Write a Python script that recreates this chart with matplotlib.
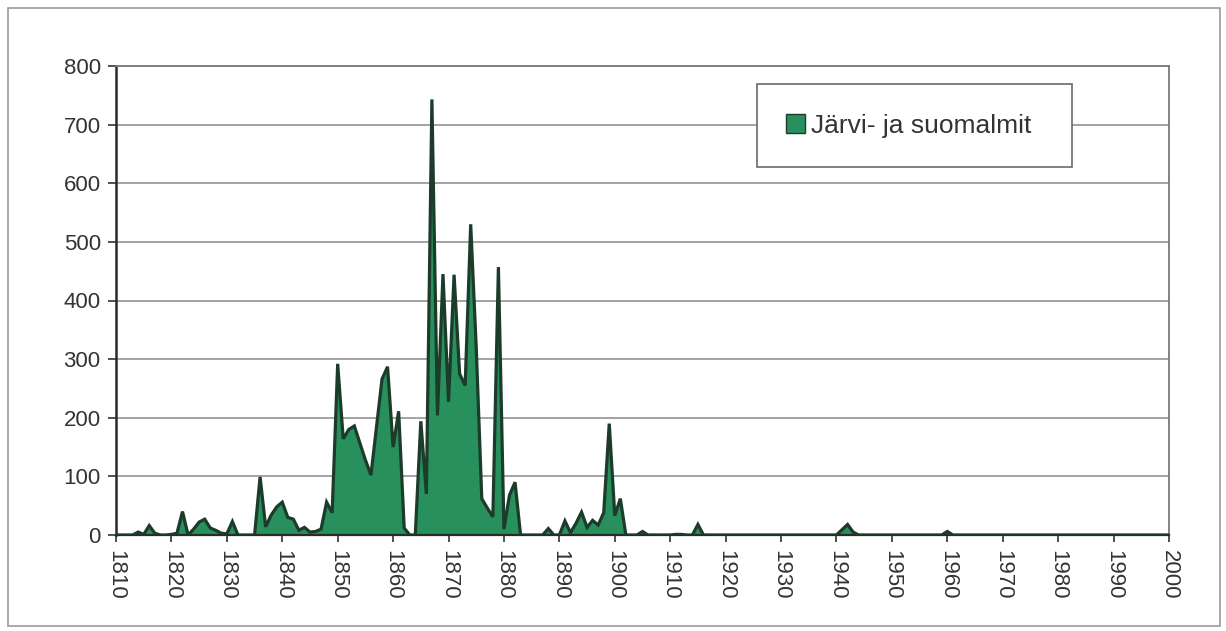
import matplotlib
matplotlib.use("Agg")
import matplotlib.pyplot as plt
from matplotlib.patches import Rectangle, Patch

plt.rcParams['font.family'] = ['Liberation Sans', 'DejaVu Sans']

# ---- data -------------------------------------------------------------
years = list(range(1810, 2001))
nonzero = {
    1814: 5, 1815: 1, 1816: 16, 1817: 3, 1820: 1, 1821: 3, 1822: 40,
    1824: 10, 1825: 22, 1826: 27, 1827: 12, 1828: 8, 1829: 3, 1830: 2, 1831: 23,
    1836: 99, 1837: 14, 1838: 34, 1839: 48, 1840: 56, 1841: 30, 1842: 27,
    1843: 8, 1844: 13, 1845: 5, 1846: 6, 1847: 10, 1848: 56, 1849: 38,
    1850: 292, 1851: 164, 1852: 180, 1853: 186, 1854: 157, 1855: 128,
    1856: 102, 1857: 184, 1858: 266, 1859: 287, 1860: 150, 1861: 211,
    1862: 12, 1865: 194, 1866: 70, 1867: 743, 1868: 204, 1869: 445,
    1870: 227, 1871: 444, 1872: 275, 1873: 255, 1874: 530, 1875: 320,
    1876: 62, 1877: 46, 1878: 31, 1879: 457, 1880: 10, 1881: 68, 1882: 90,
    1888: 11, 1891: 24, 1892: 4, 1893: 20, 1894: 39, 1895: 13, 1896: 25,
    1897: 17, 1898: 38, 1899: 190, 1900: 33, 1901: 62, 1905: 6,
    1911: 1, 1912: 1, 1915: 18, 1941: 9, 1942: 18, 1943: 5, 1960: 6,
}
values = [nonzero.get(y, 0) for y in years]

series_label = "Järvi- ja suomalmit"
x_ticks = list(range(1810, 2001, 10))
y_ticks = list(range(0, 801, 100))

# ---- figure -----------------------------------------------------------
W, H = 1226, 631
fig = plt.figure(figsize=(W / 100, H / 100), dpi=100)
fig.patch.set_facecolor('white')

# outer frame
fig.patches.append(Rectangle((8 / W, 5 / H), (1220 - 8) / W, (623 - 5) / H,
                             transform=fig.transFigure, fill=False,
                             edgecolor='#9a9a9a', linewidth=1.2))

ax = fig.add_axes([116 / W, 1 - 535 / H, (1169 - 116) / W, (535 - 66) / H])

fill_col = '#27905c'
edge_col = '#1c3b2a'
ax.fill_between(years, values, 0, facecolor=fill_col, edgecolor='none', zorder=2)
ax.plot(years, values, color=edge_col, linewidth=2.3, zorder=3,
        solid_joinstyle='miter')

ax.set_xlim(1810, 2000)
ax.set_ylim(0, 800)
ax.set_xticks(x_ticks)
ax.set_xticklabels([str(t) for t in x_ticks], rotation=-90, fontsize=16,
                   color='#333333')
ax.set_yticks(y_ticks)
ax.set_yticklabels([str(t) for t in y_ticks], fontsize=16, color='#333333')
ax.tick_params(axis='x', direction='out', length=5, width=1.2, pad=6,
               color='#333333')
ax.tick_params(axis='y', direction='out', length=6, width=1.2, pad=5,
               color='#333333')

ax.yaxis.grid(True, color='#8a8a8a', linewidth=1.1, zorder=0)
ax.set_axisbelow(True)

for side in ['top', 'right']:
    ax.spines[side].set_color('#7a7a7a')
    ax.spines[side].set_linewidth(1.3)
ax.spines['left'].set_color('#2a2a2a')
ax.spines['left'].set_linewidth(1.8)
ax.spines['bottom'].set_color('#2a2a2a')
ax.spines['bottom'].set_linewidth(1.6)

handle = Patch(facecolor=fill_col, edgecolor=edge_col, linewidth=1.0)
leg = ax.legend([handle], [series_label], loc='center',
                bbox_to_anchor=((757 - 116) / 1053, (535 - 168) / 469,
                                (1072 - 757) / 1053, (168 - 83) / 469),
                mode='expand', fontsize=19, frameon=True, fancybox=False,
                shadow=False, borderpad=1.1, handlelength=0.7,
                handleheight=0.7, handletextpad=0.25, borderaxespad=0)
leg.get_frame().set_edgecolor('#6a6a6a')
leg.get_frame().set_linewidth(1.2)
leg.get_frame().set_facecolor('white')
leg.get_frame().set_alpha(1)
leg.set_zorder(5)
for t in leg.get_texts():
    t.set_color('#333333')

fig.savefig('out.png', dpi=100, facecolor='white')
